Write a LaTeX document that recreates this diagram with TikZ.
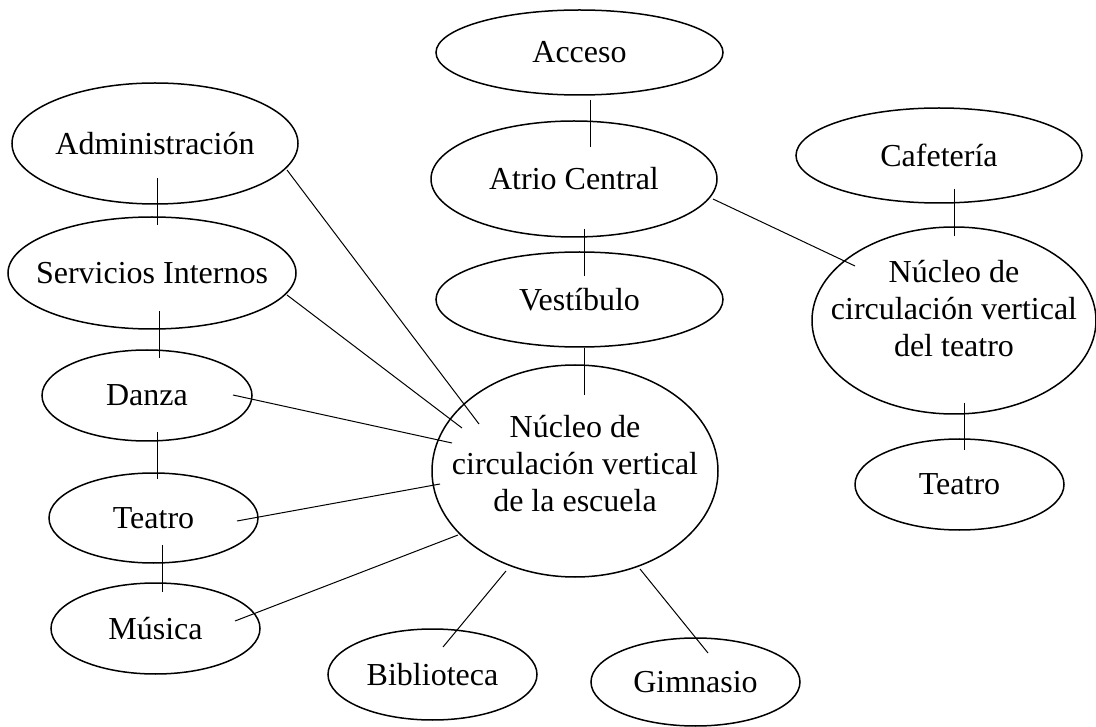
\documentclass[tikz,border=0pt]{standalone}
\usepackage{fontspec}
\setmainfont{Liberation Serif}
\usetikzlibrary{shapes.geometric,calc}
\newcommand{\ztext}[1]{\makebox[0pt][c]{#1}}
\tikzset{
  room/.style={ellipse, draw=black, line width=1.5pt, inner sep=0pt, font=\fontsize{32}{37}\selectfont},
  link/.style={draw=black, line width=1pt},
  core/.style={align=center, inner sep=0pt, font=\fontsize{32}{37}\selectfont}
}
\begin{document}
\begin{tikzpicture}[x=1pt,y=-1pt]
\useasboundingbox[fill=white] (0,0) rectangle (1096,727);
% nodes
\node[room, minimum width=287pt, minimum height=85pt]  (acc) at (579.5,52.5) {\ztext{Acceso}};
\node[room, minimum width=286pt, minimum height=116pt] (atr) at (574,179) {\ztext{Atrio Central}};
\node[room, minimum width=287pt, minimum height=95pt]  (ves) at (579.5,299.5) {\ztext{Vestíbulo}};
\node[room, minimum width=286pt, minimum height=212pt] (ne)  at (575,471) {};
\node[core] (net) at (575,464) {Núcleo de\\circulación vertical\\de la escuela};
\node[room, minimum width=286pt, minimum height=121pt] (adm) at (155,143.5) {\ztext{Administración}};
\node[room, minimum width=288pt, minimum height=112pt] (ser) at (152,273) {\ztext{Servicios Internos}};
\node[room, minimum width=210pt, minimum height=91pt]  (dan) at (147,395.5) {\ztext{Danza}};
\node[room, minimum width=209pt, minimum height=90pt]  (tea) at (153.5,518) {\ztext{Teatro}};
\node[room, minimum width=209pt, minimum height=91pt]  (mus) at (155.5,628.5) {\ztext{Música}};
\node[room, minimum width=209pt, minimum height=91pt]  (bib) at (432.5,674.5) {\ztext{Biblioteca}};
\node[room, minimum width=209pt, minimum height=88pt]  (gim) at (695.5,682) {\ztext{Gimnasio}};
\node[room, minimum width=286pt, minimum height=95pt]  (caf) at (939,155.5) {\ztext{Cafetería}};
\node[room, minimum width=284pt, minimum height=187pt] (nt)  at (954,320.5) {};
\node[core] (ntt) at (954,309) {Núcleo de\\circulación vertical\\del teatro};
\node[room, minimum width=209pt, minimum height=91pt]  (tea2) at (959.5,484.5) {\ztext{Teatro}};
% vertical connectors
\draw[link] ($(acc)+(10.5,47.5)$) -- ($(atr)+(16,-32)$);
\draw[link] ($(atr)+(10,50)$) -- ($(ves)+(4.5,-23.5)$);
\draw[link] ($(ves)+(4.5,48.5)$) -- ($(ne)+(9,-76)$);
\draw[link] ($(adm)+(2,34.5)$) -- ($(ser)+(5,-48)$);
\draw[link] ($(ser)+(7,38)$) -- ($(dan)+(12,-37.5)$);
\draw[link] ($(dan)+(10,36.5)$) -- ($(tea)+(3.5,-39)$);
\draw[link] ($(tea)+(8.5,27)$) -- ($(mus)+(6.5,-36.5)$);
\draw[link] ($(caf)+(15,33.5)$) -- ($(nt)+(0,-84.5)$);
\draw[link] ($(nt)+(10,82.5)$) -- ($(tea2)+(4.5,-34.5)$);
% diagonal connectors
\draw[link] ($(adm)+(132,26.5)$) -- ($(ne)+(-96,-47)$);
\draw[link] ($(ser)+(135,22)$) -- ($(ne)+(-113,-43)$);
\draw[link] ($(dan)+(86,-0.5)$) -- ($(ne)+(-123,-28)$);
\draw[link] ($(tea)+(83.5,3)$) -- ($(ne)+(-135,13)$);
\draw[link] ($(mus)+(79.5,-7.5)$) -- ($(ne)+(-117,64)$);
\draw[link] ($(ne)+(-69,100)$) -- ($(bib)+(10.5,-27.5)$);
\draw[link] ($(ne)+(65,98)$) -- ($(gim)+(12.5,-29)$);
\draw[link] ($(atr)+(139,20)$) -- ($(nt)+(-99,-54.5)$);
\end{tikzpicture}
\end{document}
